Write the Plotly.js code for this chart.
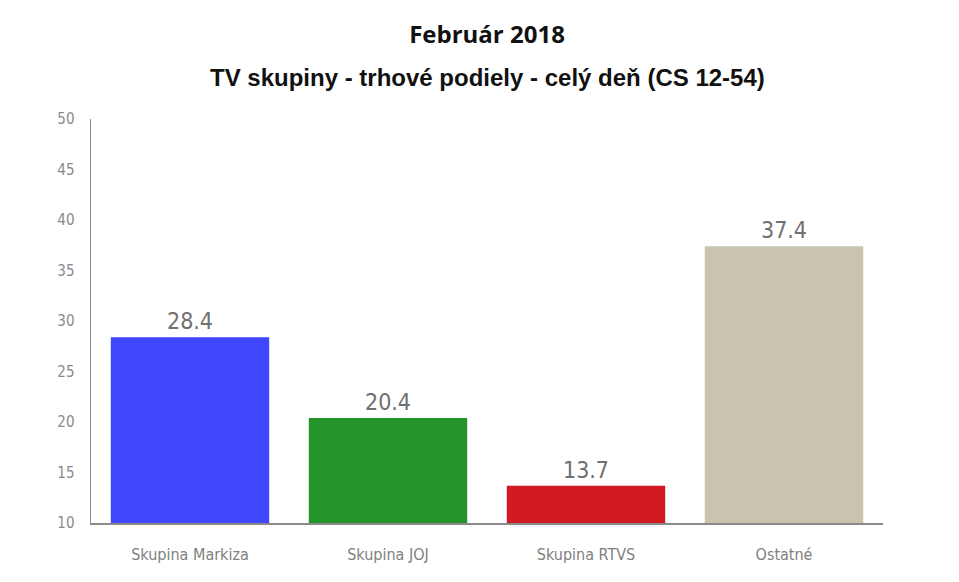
<!DOCTYPE html>
<html>
<head>
<meta charset="utf-8">
<script src="https://cdn.plot.ly/plotly-3.0.1.min.js"></script>
<style>
  html, body { margin: 0; padding: 0; background: #fff; }
  #chart { width: 959px; height: 582px; }
</style>
</head>
<body>
<div id="chart"></div>
<script>
const groups = ["Skupina Markiza", "Skupina JOJ", "Skupina RTVS", "Ostatné"];
const shares = [28.4, 20.4, 13.7, 37.4];
const barColors = ["#3f46fc", "#24952b", "#d21a24", "#c8c4ae"];

const narrow = "'Liberation Sans Narrow', 'DejaVu Sans Condensed', 'Roboto Condensed', sans-serif";

const trace = {
  type: "bar",
  x: groups,
  y: shares,
  marker: { color: barColors },
  text: shares.map((v) => v.toFixed(1)),
  textposition: "outside",
  cliponaxis: false,
  textfont: { family: narrow, size: 23, color: "#707070" },
  hoverinfo: "x+y",
};

const layout = {
  width: 959,
  height: 582,
  margin: { t: 119, b: 59, l: 91, r: 76 },
  paper_bgcolor: "#fff",
  plot_bgcolor: "#fff",
  showlegend: false,
  bargap: 0.2,
  title: {
    text: "Február 2018",
    font: { family: "'Open Sans', sans-serif", size: 24, color: "#111", weight: 700 },
    x: 0.5,
    xref: "paper",
    y: 1 - 35 / 582,
    yref: "container",
    yanchor: "middle",
  },
  annotations: [
    {
      text: "<b>TV skupiny - trhové podiely - celý deň (CS 12-54)</b>",
      xref: "paper",
      yref: "paper",
      x: 0.5,
      y: (523 - 78) / 404,
      yanchor: "middle",
      showarrow: false,
      font: { family: "'Liberation Sans', Arial, sans-serif", size: 24, color: "#111" },
    },
  ],
  xaxis: {
    type: "category",
    range: [-0.5, 3.5],
    showline: true,
    linecolor: "#8a8a8a",
    linewidth: 1.5,
    showgrid: false,
    ticks: "",
    ticklabelstandoff: 16,
    tickfont: { family: narrow, size: 16, color: "#808080" },
    fixedrange: true,
  },
  yaxis: {
    range: [10, 50],
    dtick: 5,
    showline: true,
    linecolor: "#8a8a8a",
    linewidth: 1.5,
    showgrid: false,
    zeroline: false,
    ticks: "",
    ticklabelstandoff: 12,
    tickfont: { family: narrow, size: 15, color: "#8a8a8a" },
    fixedrange: true,
  },
};

Plotly.newPlot("chart", [trace], layout, { displayModeBar: false, staticPlot: true });
</script>
</body>
</html>
